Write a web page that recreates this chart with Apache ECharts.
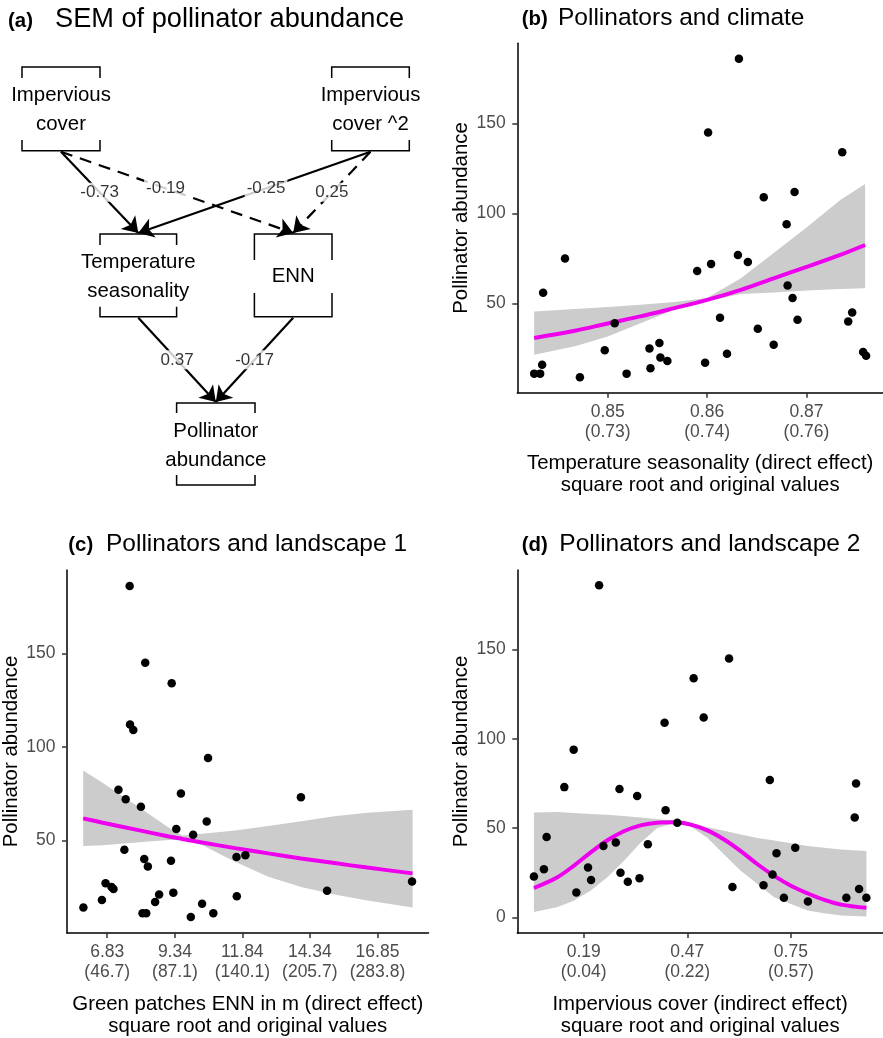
<!DOCTYPE html>
<html>
<head>
<meta charset="utf-8">
<script src="https://cdn.jsdelivr.net/npm/echarts@6/dist/echarts.min.js"></script>
<style>
html,body{margin:0;padding:0;background:#fff;}
#chart{width:883px;height:1038px;}
</style>
</head>
<body>
<div id="chart"></div>
<script>
var FONT = 'Liberation Sans, Arial, sans-serif';

// (a) path diagram: node labels and path coefficients
var semNodeNames = ['Impervious\ncover', 'Impervious\ncover ^2', 'Temperature\nseasonality', 'ENN', 'Pollinator\nabundance'];
var semFrom = [0, 0, 1, 1, 2, 3];
var semTo = [2, 3, 2, 3, 4, 4];
var semCoef = ['-0.73', '-0.19', '-0.25', '0.25', '0.37', '-0.17'];
var semDashed = [false, true, false, true, false, false];

// (b) temperature seasonality
var climX = [0.8426, 0.8432, 0.8434, 0.8435, 0.8457, 0.8472, 0.8497, 0.8507, 0.8519, 0.8542, 0.8543, 0.8552, 0.8553, 0.8560, 0.8590, 0.8598, 0.8601, 0.8604, 0.8613, 0.8620, 0.8631, 0.8632, 0.8641, 0.8651, 0.8657, 0.8667, 0.8680, 0.8681, 0.8686, 0.8688, 0.8691, 0.8736, 0.8742, 0.8746, 0.8757, 0.8760];
var climY = [11, 11, 16, 56, 75, 9, 24, 39, 11, 25, 14, 28, 20, 18, 68, 17, 145, 72, 42, 22, 77, 186, 73, 36, 109, 27, 94, 60, 53, 112, 41, 134, 40, 45, 23, 21];
var climCurveX = [0.8426, 0.8467, 0.8500, 0.8533, 0.8567, 0.8600, 0.8634, 0.8667, 0.8701, 0.8734, 0.8759];
var climFit = [30.8, 34.8, 38.9, 42.8, 47.4, 52, 57.6, 64, 70.5, 77, 82.5];
var climLow = [21.5, 26.2, 31.7, 39, 46.5, 51.3, 55.2, 56.1, 57.2, 58, 58.5];
var climHigh = [45.6, 46.9, 48, 49.3, 50.8, 53, 64, 78, 92.7, 107.5, 116.4];
var climTicks = [0.85, 0.86, 0.87];
var climTickOrig = ['0.73', '0.74', '0.76'];

// (c) green patches ENN
var ennX = [5.948, 6.634, 6.769, 6.99, 7.063, 7.247, 7.663, 7.676, 7.798, 7.516, 7.467, 8.08, 8.14, 8.276, 8.203, 8.337, 8.24, 8.607, 8.754, 9.195, 9.22, 9.281, 9.391, 9.563, 9.93, 10.016, 10.347, 10.519, 10.568, 10.764, 11.622, 11.634, 11.953, 14.011, 14.98, 18.13];
var ennY = [14, 18, 27, 25, 24, 77, 186, 112, 109, 72, 45, 68, 11, 11, 40, 36, 145, 17, 21, 39, 134, 22, 56, 75, 9, 53, 16, 60, 94, 11, 41, 20, 42, 73, 23, 28];
var ennCurveX = [5.94, 6.67, 7.90, 9.12, 9.61, 10.35, 11.57, 12.80, 14.02, 15.25, 16.47, 18.15];
var ennFit = [61.7, 59.4, 55.7, 52.0, 50.7, 48.8, 45.8, 43.0, 40.3, 37.8, 35.4, 32.3];
var ennLow = [47, 47.3, 48.8, 50.2, 50.2, 47.5, 38.5, 30.5, 25, 21, 17.8, 14];
var ennHigh = [87.3, 80.6, 68.7, 56.7, 52.5, 53.5, 55.3, 57.6, 60.2, 62.9, 64.7, 66.4];
var ennTicks = [6.83, 9.34, 11.84, 14.34, 16.85];
var ennTickOrig = ['46.7', '87.1', '140.1', '205.7', '283.8'];

// (d) impervious cover
var impX = [0.0554, 0.0825, 0.0897, 0.1376, 0.1629, 0.1701, 0.2017, 0.2099, 0.2316, 0.2433, 0.2767, 0.2867, 0.2894, 0.3092, 0.3345, 0.3408, 0.3634, 0.4086, 0.4113, 0.4429, 0.4872, 0.5143, 0.5829, 0.5920, 0.6760, 0.6931, 0.7003, 0.7112, 0.7311, 0.7618, 0.7961, 0.9000, 0.9225, 0.9262, 0.9343, 0.9541];
var impY = [23, 27, 45, 73, 94, 14, 28, 21, 186, 40, 42, 72, 25, 20, 68, 22, 41, 109, 60, 53, 134, 112, 145, 17, 18, 77, 24, 36, 11, 39, 9, 11, 56, 75, 16, 11];
var impCurveX = [0.0554, 0.1177, 0.1629, 0.2081, 0.2532, 0.2984, 0.3436, 0.3887, 0.4339, 0.4791, 0.5242, 0.5694, 0.6145, 0.6597, 0.7049, 0.7500, 0.7952, 0.8403, 0.8855, 0.9542];
var impFit = [16.5, 22.4, 28.9, 36.3, 43.1, 48.3, 51.6, 53.1, 53.3, 52, 48.8, 43.7, 37.2, 29.8, 23.3, 17.8, 13.5, 9.8, 7.2, 5.4];
var impLow = [3, 5.7, 9.4, 15, 22.4, 31.6, 41.8, 50.1, 52.7, 51, 44.6, 35.3, 26.1, 18.7, 11.3, 7.6, 3.9, 2.3, 1.1, 0.6];
var impHigh = [58.8, 59, 58.5, 58, 57.5, 56.8, 56, 55, 54.4, 53.2, 50.5, 48.5, 46.4, 44.5, 43.1, 41.5, 40, 39, 38.1, 37.2];
var impTicks = [0.19, 0.47, 0.75];
var impTickOrig = ['0.04', '0.22', '0.57'];

var yTicks = [50, 100, 150];
var yTicksD = [0, 50, 100, 150];

// diagram layout (panel pixels): centre x, top, bottom, half width, bracket tick lengths
var semLayout = [
    {cx: 61, top: 67, bottom: 150.7, half: 39, tickTop: 11, tickBottom: 10.7},
    {cx: 370.5, top: 67, bottom: 150.7, half: 38.8, tickTop: 11, tickBottom: 10.7},
    {cx: 138.3, top: 234, bottom: 316.7, half: 38.3, tickTop: 11, tickBottom: 10},
    {cx: 293.2, top: 234, bottom: 316.7, half: 38.8, tickTop: 26, tickBottom: 23.7},
    {cx: 215.8, top: 403, bottom: 485, half: 39.2, tickTop: 10, tickBottom: 10}
];
var semLabelAt = [0.5, 0.45, 0.45, 0.5, 0.5, 0.5];

var myChart = echarts.init(document.getElementById('chart'));

function zip(a, b){
    var out = [];
    for(var i = 0; i < a.length; i++){
        out.push([a[i], b[i]]);
    }
    return out;
}

function closestLabel(v, ticks, orig, twoLine){
    var best = 0;
    for(var i = 1; i < ticks.length; i++){
        if(Math.abs(ticks[i] - v) < Math.abs(ticks[best] - v)) best = i;
    }
    return twoLine ? ticks[best] + '\n(' + orig[best] + ')' : String(ticks[best]);
}

function getXAxis(gi, min, max, ticks, orig, name){
    return {
        type: 'value', gridIndex: gi, min: min, max: max,
        name: name, nameLocation: 'middle', nameGap: 60,
        nameTextStyle: {color: '#000', fontSize: 20.4, lineHeight: 22, fontFamily: FONT},
        axisLine: {onZero: false, lineStyle: {color: '#000', width: 1.5}},
        axisTick: {customValues: ticks, length: 5, lineStyle: {color: '#333', width: 1.5}},
        axisLabel: {
            customValues: ticks, margin: 9, color: '#4D4D4D', fontSize: 17.5, lineHeight: 20, fontFamily: FONT,
            formatter: function(v){ return closestLabel(v, ticks, orig, true); }
        },
        splitLine: {show: false}
    };
}

function getYAxis(gi, min, max, ticks){
    return {
        type: 'value', gridIndex: gi, min: min, max: max,
        name: 'Pollinator abundance', nameLocation: 'middle', nameGap: 46,
        nameTextStyle: {color: '#000', fontSize: 20.4, fontFamily: FONT},
        axisLine: {onZero: false, lineStyle: {color: '#000', width: 1.5}},
        axisTick: {customValues: ticks, length: 5, lineStyle: {color: '#333', width: 1.5}},
        axisLabel: {
            customValues: ticks, margin: 11.5, color: '#4D4D4D', fontSize: 17.5, fontFamily: FONT,
            formatter: function(v){ return closestLabel(v, ticks, null, false); }
        },
        splitLine: {show: false}
    };
}

function bandSeries(ai, curveX, low, high){
    return {
        type: 'custom', xAxisIndex: ai, yAxisIndex: ai, silent: true, z: 1,
        data: [[curveX[0], low[0]]],
        renderItem: function(params, api){
            var pts = [];
            for(var i = 0; i < curveX.length; i++) pts.push(api.coord([curveX[i], high[i]]));
            for(var j = curveX.length - 1; j >= 0; j--) pts.push(api.coord([curveX[j], low[j]]));
            return {type: 'polygon', shape: {points: pts}, style: {fill: '#CCCCCC'}};
        }
    };
}

function fitSeries(ai, curveX, fit){
    return {
        type: 'line', xAxisIndex: ai, yAxisIndex: ai, silent: true, z: 3,
        data: zip(curveX, fit), smooth: 0.35, showSymbol: false, symbol: 'none',
        lineStyle: {color: '#EE00EE', width: 4}
    };
}

function pointSeries(ai, xs, ys){
    return {
        type: 'scatter', xAxisIndex: ai, yAxisIndex: ai, silent: true, z: 5,
        data: zip(xs, ys), symbolSize: 8.5, itemStyle: {color: '#000', opacity: 1}
    };
}

function titlePair(tag, tagLeft, main, mainLeft, baseline, mainSize){
    return [
        {text: tag, left: tagLeft, top: baseline - 17.6, padding: 0,
         textStyle: {fontSize: 20.4, fontWeight: 'bold', color: '#000', fontFamily: FONT}},
        {text: main, left: mainLeft, top: baseline - mainSize * 0.86, padding: 0,
         textStyle: {fontSize: mainSize, fontWeight: 'normal', color: '#000', fontFamily: FONT}}
    ];
}

// edges of the diagram
var edgeData = [];
var edgeLabels = [];
for(var e = 0; e < semFrom.length; e++){
    var s = semLayout[semFrom[e]];
    var t = semLayout[semTo[e]];
    var p0 = [s.cx, s.bottom + 1];
    var p1 = [t.cx, t.top - 1];
    edgeData.push({
        coords: [p0, p1],
        lineStyle: {type: semDashed[e] ? [12, 8] : 'solid'}
    });
    var f = semLabelAt[e];
    edgeLabels.push({name: semCoef[e], value: [p0[0] + (p1[0] - p0[0]) * f, p0[1] + (p1[1] - p0[1]) * f]});
}

var option = {
    animation: false,
    backgroundColor: '#fff',
    title: [].concat(
        titlePair('(a)', 8, 'SEM of pollinator abundance', 55, 29.3, 27.2),
        titlePair('(b)', 521.7, 'Pollinators and climate', 558, 26.7, 24.5),
        titlePair('(c)', 68.3, 'Pollinators and landscape 1', 106, 553.3, 24.5),
        titlePair('(d)', 521.7, 'Pollinators and landscape 2', 559.3, 553.3, 24.5)
    ),
    grid: [
        {left: 0, top: 0, width: 440, height: 500},
        {left: 517.3, top: 43.3, width: 365.7, height: 349.4},
        {left: 64, top: 570, width: 364.5, height: 366},
        {left: 517.3, top: 570, width: 365.7, height: 366}
    ],
    xAxis: [
        {type: 'value', gridIndex: 0, min: 0, max: 440, show: false},
        getXAxis(1, 0.8409, 0.8777, climTicks, climTickOrig, 'Temperature seasonality (direct effect)\nsquare root and original values'),
        getXAxis(2, 5.34, 18.74, ennTicks, ennTickOrig, 'Green patches ENN in m (direct effect)\nsquare root and original values'),
        getXAxis(3, 0.0105, 0.999, impTicks, impTickOrig, 'Impervious cover (indirect effect)\nsquare root and original values')
    ],
    yAxis: [
        {type: 'value', gridIndex: 0, min: 0, max: 500, inverse: true, show: false},
        getYAxis(1, 0.4, 194.6, yTicks),
        getYAxis(2, 0.4, 194.6, yTicks),
        getYAxis(3, -8.7, 194.6, yTicksD)
    ],
    series: [
        {
            type: 'custom', xAxisIndex: 0, yAxisIndex: 0, silent: true, z: 2,
            data: semLayout.map(function(n, i){ return [n.cx, n.top, i]; }),
            renderItem: function(params, api){
                var n = semLayout[api.value(2)];
                var tl = api.coord([n.cx - n.half, n.top]);
                var br = api.coord([n.cx + n.half, n.bottom]);
                var stroke = {stroke: '#000', lineWidth: 1.5, fill: null};
                return {
                    type: 'group',
                    children: [
                        {type: 'polyline', shape: {points: [[tl[0], tl[1] + n.tickTop], [tl[0], tl[1]], [br[0], tl[1]], [br[0], tl[1] + n.tickTop]]}, style: stroke},
                        {type: 'polyline', shape: {points: [[tl[0], br[1] - n.tickBottom], [tl[0], br[1]], [br[0], br[1]], [br[0], br[1] - n.tickBottom]]}, style: stroke},
                        {type: 'text', x: (tl[0] + br[0]) / 2, y: (tl[1] + br[1]) / 2 + 1.5,
                         style: {text: semNodeNames[api.value(2)], align: 'center', verticalAlign: 'middle',
                                 fontSize: 20.4, lineHeight: 29, fontFamily: FONT, fill: '#000'}}
                    ]
                };
            }
        },
        {
            type: 'lines', coordinateSystem: 'cartesian2d', xAxisIndex: 0, yAxisIndex: 0, silent: true, z: 2,
            symbol: ['none', 'arrow'], symbolSize: 15,
            lineStyle: {color: '#000', width: 2.2, opacity: 1, curveness: 0},
            data: edgeData
        },
        {
            type: 'scatter', xAxisIndex: 0, yAxisIndex: 0, silent: true, z: 4,
            symbolSize: 0, data: edgeLabels,
            label: {show: true, position: 'inside', formatter: '{b}', color: '#000', fontSize: 17, fontFamily: FONT,
                    backgroundColor: '#fff', padding: [1, 2]}
        },
        bandSeries(1, climCurveX, climLow, climHigh),
        pointSeries(1, climX, climY),
        fitSeries(1, climCurveX, climFit),
        bandSeries(2, ennCurveX, ennLow, ennHigh),
        pointSeries(2, ennX, ennY),
        fitSeries(2, ennCurveX, ennFit),
        bandSeries(3, impCurveX, impLow, impHigh),
        pointSeries(3, impX, impY),
        fitSeries(3, impCurveX, impFit)
    ]
};

myChart.setOption(option);
window.onresize = myChart.resize;
</script>
</body>
</html>
